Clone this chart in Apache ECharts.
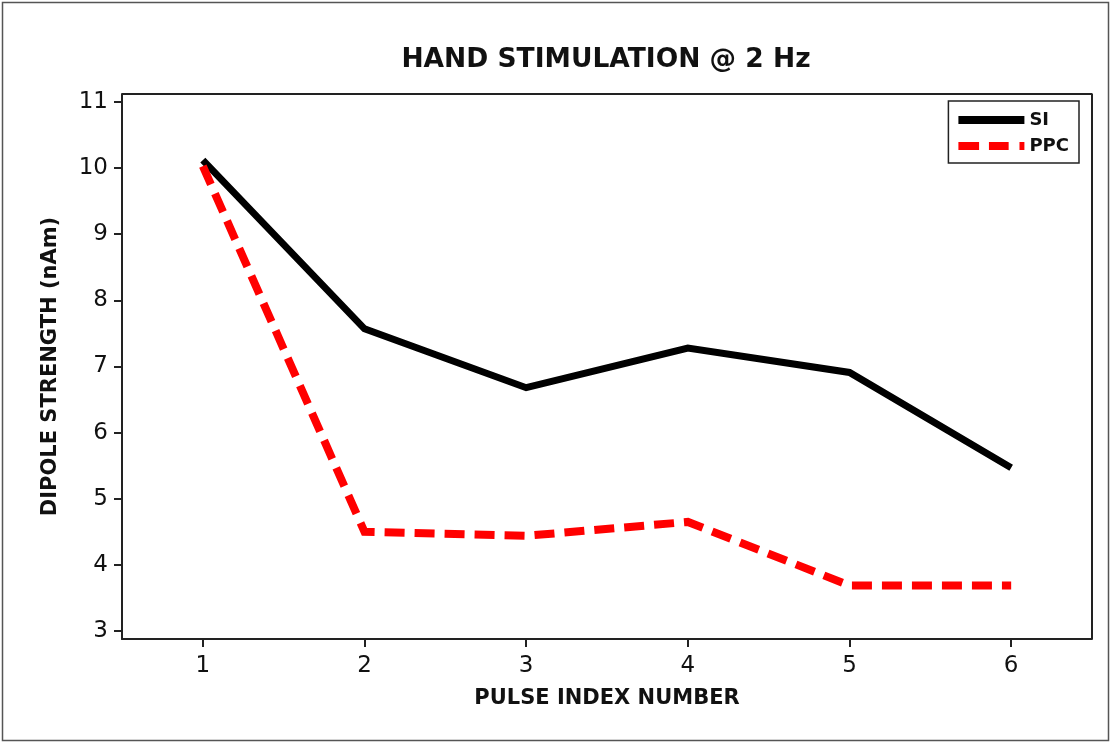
<!DOCTYPE html>
<html>
<head>
<meta charset="utf-8">
<script src="https://cdn.jsdelivr.net/npm/echarts@6/dist/echarts.min.js"></script>
<style>
  html, body { margin: 0; padding: 0; background: #fff; }
  #chart { width: 1112px; height: 742px; }
</style>
</head>
<body>
<div id="chart"></div>
<script>
// Pulse index along the x axis
const pulseIndex = [1, 2, 3, 4, 5, 6];
// Dipole strength (nAm) per region
const siValues = [10.12, 7.57, 6.68, 7.28, 6.91, 5.47];
const ppcValues = [10.03, 4.50, 4.44, 4.65, 3.69, 3.69];
const yTicks = [3, 4, 5, 6, 7, 8, 9, 10, 11];

const FONT = 'DejaVu Sans';
const chart = echarts.init(document.getElementById('chart'), null, { renderer: 'canvas' });

const pairs = (xs, ys) => xs.map((x, i) => [x, ys[i]]);

// legend swatches: a solid bar and a dash-dash-stub bar, 66 x 8
const SOLID_ICON = 'path://M0,0H66V8H0Z';
const DASH_ICON = 'path://M0,0H21V8H0ZM31,0H51V8H31ZM62,0H67V8H62Z';

chart.setOption({
  backgroundColor: '#fff',
  animation: false,
  title: {
    text: 'HAND STIMULATION @ 2 Hz',
    left: 601,
    textAlign: 'center',
    top: 42,
    textStyle: { fontFamily: FONT, fontSize: 26.5, fontWeight: 'bold', color: '#111' }
  },
  graphic: [
    {
      type: 'rect',
      shape: { x: 2.5, y: 2.5, width: 1106, height: 738 },
      style: { fill: 'none', stroke: '#555', lineWidth: 1.5 },
      silent: true
    }
  ],
  legend: {
    right: 33,
    top: 101,
    orient: 'vertical',
    itemWidth: 66,
    itemHeight: 8,
    itemGap: 8,
    padding: [10, 10, 8, 10],
    borderColor: '#222',
    borderWidth: 1.5,
    backgroundColor: '#fff',
    data: [
      { name: 'SI', icon: SOLID_ICON },
      { name: 'PPC', icon: DASH_ICON }
    ],
    textStyle: {
      fontFamily: FONT, fontSize: 18, fontWeight: 'bold', color: '#111',
      width: 56, align: 'right'
    }
  },
  grid: { left: 122, top: 94, right: 20, bottom: 103 },
  xAxis: {
    type: 'value',
    min: 0.5,
    max: 6.5,
    interval: 1,
    name: 'PULSE INDEX NUMBER',
    nameLocation: 'middle',
    nameGap: 49,
    nameTextStyle: { fontFamily: FONT, fontSize: 21, fontWeight: 'bold', color: '#111' },
    axisLine: { show: true, lineStyle: { color: '#222', width: 2 } },
    axisTick: { show: true, length: 8, lineStyle: { color: '#222', width: 2 },
      customValues: pulseIndex },
    axisLabel: { fontFamily: FONT, fontSize: 23, color: '#111', margin: 16,
      customValues: pulseIndex },
    splitLine: { show: false }
  },
  yAxis: {
    type: 'value',
    min: 2.88,
    max: 11.12,
    name: 'DIPOLE STRENGTH (nAm)',
    nameLocation: 'middle',
    nameGap: 61,
    nameTextStyle: { fontFamily: FONT, fontSize: 21, fontWeight: 'bold', color: '#111' },
    axisLine: { show: true, lineStyle: { color: '#222', width: 2 } },
    axisTick: { show: true, length: 8, lineStyle: { color: '#222', width: 2 },
      customValues: yTicks },
    axisLabel: { fontFamily: FONT, fontSize: 23, color: '#111', margin: 14,
      customValues: yTicks },
    splitLine: { show: false }
  },
  series: [
    {
      name: 'SI',
      type: 'line',
      data: pairs(pulseIndex, siValues),
      symbol: 'none',
      color: '#000',
      lineStyle: { color: '#000', width: 7, cap: 'butt', join: 'miter' }
    },
    {
      name: 'PPC',
      type: 'line',
      data: pairs(pulseIndex, ppcValues),
      symbol: 'none',
      color: '#f00',
      lineStyle: { color: '#f00', width: 8, type: [20, 10], cap: 'butt', join: 'miter' }
    },
    {
      // top and right edges of the plot frame
      type: 'line',
      data: [[0.5, 11.12], [6.5, 11.12], [6.5, 2.88]],
      symbol: 'none',
      silent: true,
      lineStyle: { color: '#222', width: 2 },
      tooltip: { show: false }
    }
  ]
});
</script>
</body>
</html>
